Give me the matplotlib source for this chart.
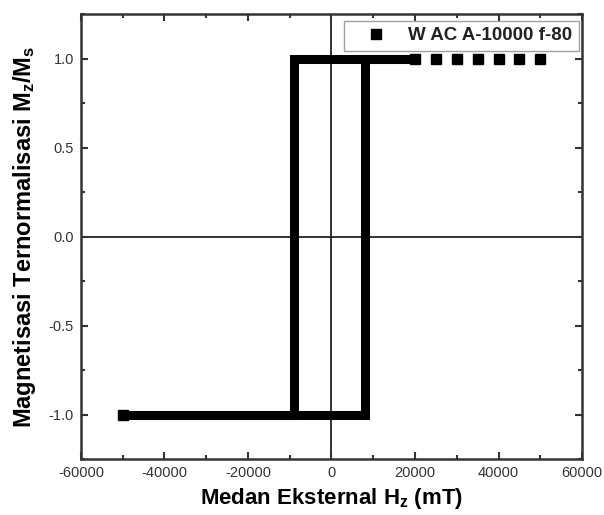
import matplotlib
matplotlib.use("Agg")
import matplotlib.pyplot as plt
from matplotlib.ticker import MultipleLocator

plt.rcParams['font.family'] = ['Liberation Sans', 'DejaVu Sans']
plt.rcParams['mathtext.fontset'] = 'custom'
plt.rcParams['mathtext.rm'] = 'Liberation Sans:bold'
plt.rcParams['mathtext.bf'] = 'Liberation Sans:bold'
plt.rcParams['mathtext.default'] = 'bf'
plt.rcParams['axes.unicode_minus'] = False

# Hysteresis loop (continuous, densely sampled part)
H_loop = [20000, -9000, -9000, -50000, -50000, 8000, 8000, 20000]
M_loop = [1.0, 1.0, -1.0, -1.0, -1.0, -1.0, 1.0, 1.0]
# Sparse saturated points
H_sparse = [20000, 25000, 30000, 35000, 40000, 45000, 50000]
M_sparse = [1.0, 1.0, 1.0, 1.0, 1.0, 1.0, 1.0]
H_end = [-50000]
M_end = [-1.0]
label = "W AC A-10000 f-80"

fig = plt.figure(figsize=(6.04, 5.15), dpi=100)
ax = fig.add_axes([0.134, 0.1087, 0.8296, 0.8641])

ax.axhline(0, color='#222222', lw=1.3, zorder=1)
ax.axvline(0, color='#222222', lw=1.3, zorder=1)

ax.plot(H_loop, M_loop, color='black', lw=6.5, solid_joinstyle='miter',
        solid_capstyle='butt', zorder=3)
ax.plot(H_sparse, M_sparse, ls='none', marker='s', ms=6.5, color='black',
        zorder=4, label=label)
ax.plot(H_end, M_end, ls='none', marker='s', ms=6.5, color='black', zorder=4)

ax.set_xlim(-60000, 60000)
ax.set_ylim(-1.25, 1.25)
ax.xaxis.set_major_locator(MultipleLocator(20000))
ax.xaxis.set_minor_locator(MultipleLocator(10000))
ax.yaxis.set_major_locator(MultipleLocator(0.5))
ax.yaxis.set_minor_locator(MultipleLocator(0.25))
ax.tick_params(which='both', direction='in', top=True, right=True,
               width=1.5, colors='#333333', labelsize=10.5, labelcolor='#333333')
ax.tick_params(which='major', length=5, pad=5)
ax.tick_params(which='minor', length=3)
for sp in ax.spines.values():
    sp.set_linewidth(1.8)
    sp.set_color('#333333')

ax.set_xlabel(r'Medan Eksternal H$_{z}$ (mT)', fontsize=16, fontweight='bold',
              labelpad=4)
ax.set_ylabel(r'Magnetisasi Ternormalisasi M$_{z}$/M$_{s}$', fontsize=17,
              fontweight='bold', labelpad=8)

leg = ax.legend(loc='upper right', bbox_to_anchor=(0.994, 0.985), fontsize=13.5,
                frameon=True, fancybox=False, handlelength=2.8,
                handletextpad=0.3, borderpad=0.35, borderaxespad=0.0,
                markerscale=1.0)
leg.get_frame().set_edgecolor('#888888')
leg.get_frame().set_linewidth(1.0)
for t in leg.get_texts():
    t.set_fontweight('bold')
    t.set_color('#222222')

fig.savefig('out.png', dpi=100)
